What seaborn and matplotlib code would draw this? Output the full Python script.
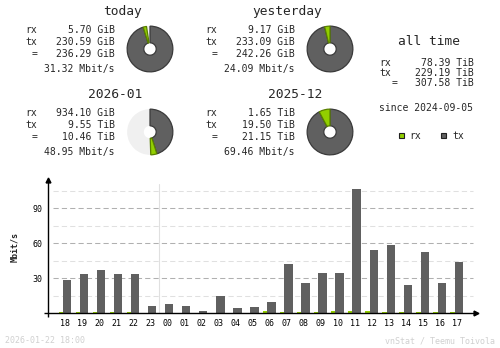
import matplotlib
matplotlib.use("Agg")
import matplotlib.pyplot as plt
from matplotlib.patches import Rectangle
import numpy as np
import pandas as pd
import seaborn as sns

# ---------------- data ----------------
hours = ['18', '19', '20', '21', '22', '23', '00', '01', '02', '03', '04', '05',
         '06', '07', '08', '09', '10', '11', '12', '13', '14', '15', '16', '17']
tx_rate = [28.3, 33.4, 36.9, 33.4, 33.4, 6.0, 7.7, 6.0, 1.7, 14.6, 4.3, 5.1,
           9.4, 42.0, 25.7, 34.3, 34.3, 106.3, 54.0, 58.3, 24.0, 52.3, 25.7, 43.7]
rx_rate = [0.9, 0.9, 0.9, 0.9, 0.9, 0.1, 0.1, 0.1, 0.1, 0.1, 0.1, 0.1,
           1.7, 0.9, 0.9, 0.9, 1.7, 1.7, 1.7, 0.9, 0.9, 0.9, 0.9, 0.9]

period_titles = ['today', 'yesterday', '2026-01', '2025-12']
period_rx = ['5.70 GiB', '9.17 GiB', '934.10 GiB', '1.65 TiB']
period_tx = ['230.59 GiB', '233.09 GiB', '9.55 TiB', '19.50 TiB']
period_total = ['236.29 GiB', '242.26 GiB', '10.46 TiB', '21.15 TiB']
period_rate = ['31.32 Mbit/s', '24.09 Mbit/s', '48.95 Mbit/s', '69.46 Mbit/s']
period_rx_gib = [5.70, 9.17, 934.10, 1.65 * 1024]
period_tx_gib = [230.59, 233.09, 9.55 * 1024, 19.50 * 1024]

alltime_title = 'all time'
alltime_labels = ['rx', 'tx', '=']
alltime_values = ['78.39 TiB', '229.19 TiB', '307.58 TiB']
since_text = 'since 2024-09-05'
legend_labels = ['rx', 'tx']

major_yticks = [30, 60, 90]
minor_yticks = [15, 45, 75, 105]
ylabel = 'Mbit/s'
timestamp = '2026-01-22 18:00'
credit = 'vnStat / Teemu Toivola'

# ---------------- style ----------------
RX = '#92CF00'
TX = '#606060'
RX_EDGE = '#5A8000'
TX_EDGE = '#3A3A3A'
PIE_BG = '#F0F0F0'
GRID_MAJ = '#B0B0B0'
GRID_MIN = '#E0E0E0'
FOOT = '#D0D0D0'

sns.set_theme(style='white')
plt.rcParams['font.family'] = ['DejaVu Sans Mono', 'DejaVu Sans']

W, H = 500, 348
fig = plt.figure(figsize=(W / 100, H / 100), dpi=100)
fig.patch.set_facecolor('white')


def fx(x):
    return x / W


def fy(y):
    return 1 - y / H


# ---------------- main chart ----------------
ax_l, ax_r, ax_t, ax_b = 48, 476, 180, 313
ax = fig.add_axes([fx(ax_l), fy(ax_b), (ax_r - ax_l) / W, (ax_b - ax_t) / H])
ax.set_facecolor('none')

df = pd.DataFrame({
    'hour': hours + hours,
    'rate': rx_rate + tx_rate,
    'dir': ['rx'] * len(hours) + ['tx'] * len(hours),
})
sns.barplot(data=df, x='hour', y='rate', hue='dir', order=hours,
            hue_order=['rx', 'tx'], palette={'rx': RX, 'tx': TX},
            dodge=True, width=0.76, saturation=1, legend=False,
            linewidth=0, edgecolor='none', ax=ax, zorder=3)

# rx narrower, tx wider (vnStat style)
for prx, ptx in zip(ax.containers[0], ax.containers[1]):
    left = prx.get_x()
    prx.set_x(left)
    prx.set_width(0.26)
    ptx.set_x(left + 0.25)
    ptx.set_width(0.49)

ax.set_xlim(-1.0, 24.12)
ax.set_ylim(0, 114)
ax.set_xlabel('')
for s in ax.spines.values():
    s.set_visible(False)

ytr = ax.get_yaxis_transform()
gx0, gx1 = (53 - ax_l) / (ax_r - ax_l), (473 - ax_l) / (ax_r - ax_l)
for v in minor_yticks:
    ax.plot([gx0, gx1], [v, v], transform=ytr, color=GRID_MIN, lw=0.75,
            ls=(0, (5, 3)), zorder=1)
for v in major_yticks:
    ax.plot([gx0, gx1], [v, v], transform=ytr, color=GRID_MAJ, lw=0.75,
            ls=(0, (5, 3)), zorder=1)

# day boundary
ax.axvline(hours.index('00') - 0.5, ymin=0, ymax=0.97, color=GRID_MIN, lw=0.8, zorder=1)

# axes lines with arrows
ax.plot([-4 / (ax_r - ax_l), 1.0], [0, 0], transform=ax.transAxes, color='black',
        lw=1.0, clip_on=False, zorder=5, solid_capstyle='butt')
ax.plot([0, 0], [-4 / (ax_b - ax_t), 1.0], transform=ax.transAxes, color='black',
        lw=1.0, clip_on=False, zorder=5, solid_capstyle='butt')
ax.plot([1.0], [0], marker='>', ms=3.5, color='black', transform=ax.transAxes,
        clip_on=False, zorder=6)
ax.plot([0], [1.0], marker='^', ms=3.5, color='black', transform=ax.transAxes,
        clip_on=False, zorder=6)

ax.set_yticks(major_yticks)
ax.set_yticklabels([str(v) for v in major_yticks])
ax.tick_params(axis='both', length=0, labelsize=6, colors='black')
ax.tick_params(axis='y', pad=4)
ax.tick_params(axis='x', pad=4)
ax.set_ylabel(ylabel, fontsize=6, fontweight='bold')
ax.yaxis.set_label_coords((19 - ax_l) / (ax_r - ax_l), 0.5)

# ---------------- overlay for text ----------------
ov = fig.add_axes([0, 0, 1, 1])
ov.set_xlim(0, W)
ov.set_ylim(H, 0)
ov.axis('off')
ov.patch.set_alpha(0)

BODY = 7
TITLE = 9.3

offsets = [(0, 0), (180, 0), (0, 83), (180, 83)]
for k, (dx, dy) in enumerate(offsets):
    ov.text(142 + dx, 15 + dy, period_titles[k], ha='right', va='baseline', fontsize=TITLE)
    rows = [('rx', period_rx[k], 32.7), ('tx', period_tx[k], 45.0), ('=', period_total[k], 57.3)]
    for lab, val, by in rows:
        ov.text(37 + dx, by + dy, lab, ha='right', va='baseline', fontsize=BODY)
        ov.text(115 + dx, by + dy, val, ha='right', va='baseline', fontsize=BODY)
    ov.text(115 + dx, 72.3 + dy, period_rate[k], ha='right', va='baseline', fontsize=BODY)

# all time block
ov.text(428.5, 45, alltime_title, ha='center', va='baseline', fontsize=TITLE)
at_x = [379, 379, 392]
at_y = [65.7, 75.7, 85.7]
for lab, val, lx, by in zip(alltime_labels, alltime_values, at_x, at_y):
    ov.text(lx, by, lab, ha='left', va='baseline', fontsize=BODY)
    ov.text(474, by, val, ha='right', va='baseline', fontsize=BODY)
ov.text(426, 111, since_text, ha='center', va='baseline', fontsize=BODY)

# legend
for (sx, tx_x), lab, col in zip([(399, 409), (441, 452)], legend_labels, [RX, TX]):
    ov.add_patch(Rectangle((sx, 133), 5, 5, facecolor=col, edgecolor='#202020', lw=0.8))
    ov.text(tx_x, 139.3, lab, ha='left', va='baseline', fontsize=BODY)

# footer
ov.text(5, 343.3, timestamp, ha='left', va='baseline', fontsize=6, color=FOOT)
ov.text(495, 343.3, credit, ha='right', va='baseline', fontsize=6, color=FOOT)

# ---------------- donuts ----------------
R = 24.0
HOLE = 6.5
centers = [(150, 49), (330, 49), (150, 132), (330, 132)]
pairs = [(0, 1), (0, 1), (2, 3), (2, 3)]
for k, (cx, cy) in enumerate(centers):
    pa = fig.add_axes([fx(cx - R), fy(cy + R), 2 * R / W, 2 * R / H])
    pa.axis('off')
    mx = max(period_rx_gib[j] + period_tx_gib[j] for j in pairs[k])
    tx_s = period_tx_gib[k] / mx
    rx_s = period_rx_gib[k] / mx
    rest = max(0.0, 1.0 - tx_s - rx_s)
    wedges, _ = pa.pie([tx_s, rx_s, rest], colors=[TX, RX, PIE_BG], startangle=90,
                       counterclock=False, radius=1.0, normalize=False,
                       wedgeprops=dict(width=1 - HOLE / R, linewidth=0.9))
    wedges[0].set_edgecolor(TX_EDGE)
    wedges[1].set_edgecolor(RX_EDGE)
    wedges[2].set_edgecolor('none')
    wedges[2].set_zorder(0)
    pa.set_xlim(-1.05, 1.05)
    pa.set_ylim(-1.05, 1.05)

fig.savefig('out.png', dpi=100, facecolor='white')
